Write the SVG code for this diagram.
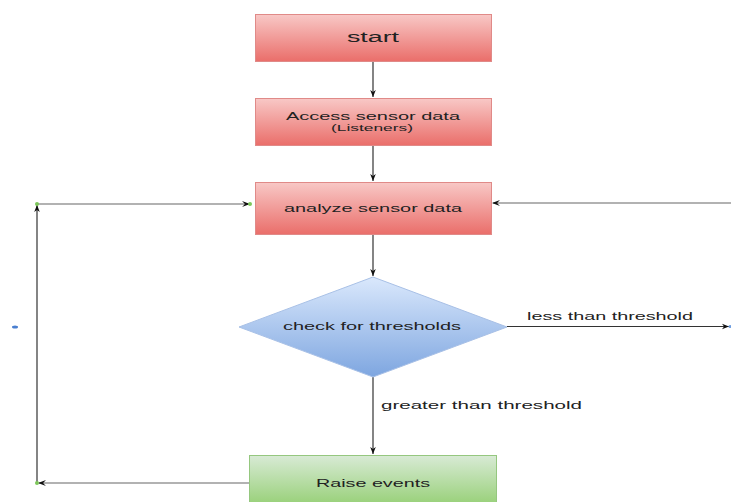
<svg xmlns="http://www.w3.org/2000/svg" width="731" height="502" viewBox="0 0 731 502">
<style>
text{font-family:"Liberation Sans",Arial,sans-serif;fill:#222;}
.red{fill:url(#gr);stroke:#e08a88;stroke-width:1}
.blue{fill:url(#gb);stroke:#a8c0e6;stroke-width:1}
.green{fill:url(#gg);stroke:#95c77f;stroke-width:1}
.c{fill:none;stroke:#333;stroke-width:1.2}
.g{fill:none;stroke:#999;stroke-width:1.4}
</style>
<defs>
<linearGradient id="gr" x1="0" y1="0" x2="0" y2="1"><stop offset="0" stop-color="#f8c8c6"/><stop offset="1" stop-color="#ea6e6a"/></linearGradient>
<linearGradient id="gb" x1="0" y1="0" x2="0" y2="1"><stop offset="0" stop-color="#dae8fc"/><stop offset="1" stop-color="#7ea6e0"/></linearGradient>
<linearGradient id="gg" x1="0" y1="0" x2="0" y2="1"><stop offset="0" stop-color="#d8ead5"/><stop offset="1" stop-color="#97d077"/></linearGradient>
<marker id="ah" viewBox="0 0 10 10" refX="10" refY="5" markerWidth="7" markerHeight="7" orient="auto" markerUnits="userSpaceOnUse"><path d="M0,1 L10,5 L0,9 L3,5 Z" fill="#111"/></marker>
</defs>
<g id="connectors">
<line class="c" x1="373" y1="61" x2="373" y2="97" marker-end="url(#ah)"/>
<line class="c" x1="373" y1="145" x2="373" y2="181" marker-end="url(#ah)"/>
<line class="c" x1="373" y1="234" x2="373" y2="276" marker-end="url(#ah)"/>
<line class="c" x1="373" y1="377" x2="373" y2="454" marker-end="url(#ah)"/>
<line class="g" x1="249" y1="483" x2="39" y2="483"/>
<path d="M46,480 L38,483 L46,486 L43,483 Z" fill="#111"/>
<line class="c" x1="37" y1="483" x2="37" y2="205" marker-end="url(#ah)"/>
<line class="g" x1="37" y1="204" x2="249" y2="204"/>
<path d="M242,201 L250,204 L242,207 L245,204 Z" fill="#111"/>
<line class="g" x1="731" y1="203" x2="493" y2="203"/>
<path d="M500,200 L492,203 L500,206 L497,203 Z" fill="#111"/>
<line class="c" x1="507" y1="326.5" x2="729" y2="326.5" marker-end="url(#ah)"/>
<text x="527" y="319.5" font-size="11" textLength="166" lengthAdjust="spacingAndGlyphs">less than threshold</text>
<text x="381" y="409" font-size="11" textLength="201" lengthAdjust="spacingAndGlyphs">greater than threshold</text>
<circle cx="37" cy="204" r="2" fill="#7dc75a"/>
<circle cx="250" cy="204" r="2" fill="#7dc75a"/>
<circle cx="37" cy="483" r="2" fill="#7dc75a"/>
<circle cx="730" cy="326.5" r="1.5" fill="#6d9de0"/>
<ellipse cx="15" cy="327" rx="3" ry="1.5" fill="#4a7fd0"/>
</g>
<g id="start">
<rect class="red" x="255.5" y="14.5" width="236" height="47"/>
<text x="347" y="41.5" font-size="14" textLength="52" lengthAdjust="spacingAndGlyphs">start</text>
</g>
<g id="access">
<rect class="red" x="255.5" y="98.5" width="236" height="47"/>
<text x="286" y="119.5" font-size="11" textLength="174" lengthAdjust="spacingAndGlyphs">Access sensor data</text>
<text x="331" y="131" font-size="9" textLength="82" lengthAdjust="spacingAndGlyphs">(Listeners)</text>
</g>
<g id="analyze">
<rect class="red" x="255.5" y="182.5" width="236" height="52"/>
<text x="284" y="212" font-size="11" textLength="178" lengthAdjust="spacingAndGlyphs">analyze sensor data</text>
</g>
<g id="check">
<polygon class="blue" points="373,277 507,327 373,377 239,327"/>
<text x="283" y="330" font-size="11" textLength="178" lengthAdjust="spacingAndGlyphs">check for thresholds</text>
</g>
<g id="raise">
<rect class="green" x="249.5" y="455.5" width="247" height="50"/>
<text x="316" y="487" font-size="11" textLength="114" lengthAdjust="spacingAndGlyphs">Raise events</text>
</g>
</svg>
